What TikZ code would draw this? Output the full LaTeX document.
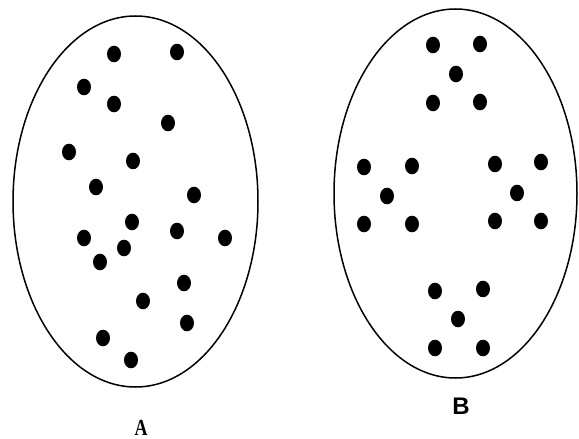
\documentclass[tikz,border=0pt]{standalone}
\usepackage{fontspec}
\usetikzlibrary{shapes.geometric}
\newfontfamily\serifA{Liberation Serif Bold}
\newfontfamily\sansB{Liberation Sans Bold}
\begin{document}
\begin{tikzpicture}[x=1pt,y=-1pt,
  dotA/.style={fill=black},
  blob/.style={draw=black,line width=1.5pt}]
\useasboundingbox (0,0) rectangle (579,439);
% Set A
\node[blob,ellipse,minimum width=245pt,minimum height=371pt,inner sep=0pt] (ellA) at (135.5,201.5) {};
\foreach \x/\y [count=\i] in {114/54,177/52,84/87,114/104,168/123,69/152,133/161,96/187,194/195,132/222,84/238,177/231,225/238,124/248,100/262,184/283,143/301,187/323,103/338,131/360}
  \fill[dotA] (\x,\y) ellipse [x radius=7, y radius=8.3];
\node[font={\serifA\fontsize{18}{21}\selectfont},anchor=north,inner sep=0pt] (labA) at (141,420) {\scalebox{1}[1.28]{A}};
% Set B
\node[blob,ellipse,minimum width=243pt,minimum height=369pt,inner sep=0pt] (ellB) at (455.5,193.5) {};
\foreach \x/\y [count=\i] in {433/45,480/44,456/74,433/103,480/102,364/167,412/166,495/164,541/162,387/196,517/193,364/224,412/224,495/221,541/221,435/291,483/289,458/319,435/348,483/348}
  \fill[dotA] (\x,\y) ellipse [x radius=7, y radius=8.3];
\node[font={\sansB\fontsize{24}{28}\selectfont},anchor=north,inner sep=0pt] (labB) at (461,398) {B};
\end{tikzpicture}
\end{document}
